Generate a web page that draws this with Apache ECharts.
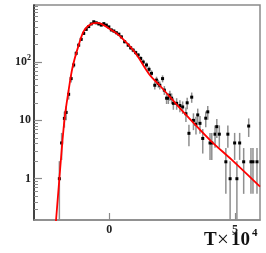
<!DOCTYPE html>
<html>
<head>
<meta charset="utf-8">
<script src="https://cdn.jsdelivr.net/npm/echarts@6/dist/echarts.min.js"></script>
<style>html,body{margin:0;padding:0;background:#fff;}#c{width:266px;height:253px;}</style>
</head>
<body>
<div id="c"></div>
<script>
// Data points (T in units of 1e4), value, symmetric error
var pointX = [-1.99,-1.90,-1.79,-1.72,-1.62,-1.52,-1.42,-1.32,-1.22,-1.12,-1.02,-0.92,-0.82,-0.72,-0.62,-0.52,-0.42,-0.32,-0.22,-0.12,-0.02,0.08,0.18,0.28,0.38,0.48,0.61,0.75,0.85,0.95,1.05,1.15,1.25,1.35,1.48,1.58,1.68,1.81,1.88,1.95,2.01,2.12,2.19,2.28,2.35,2.41,2.48,2.55,2.68,2.81,2.92,3.05,3.10,3.17,3.28,3.35,3.45,3.52,3.61,3.72,3.84,3.92,4.01,4.08,4.21,4.28,4.38,4.64,4.72,4.81,4.99,5.08,5.19,5.35,5.55,5.64,5.72,5.88];
var pointY = [1.0,4.1,10.8,13.7,28,52,89,141,195,245,310,363,405,450,490,470,450,430,455,430,400,355,340,318,300,270,223,195,175,160,145,132,115,100,89,75,64,40,49,43,40,52,33,24,24,27,24,19.6,19.6,18,17,13,20,6.0,25,10,8.6,12.4,8.9,4.9,10.9,14,4.1,4.1,5.8,7.8,5.8,1.95,5.8,1.0,4.1,1.0,4.1,1.95,8,1.95,1.95,1.95];
var pointErr = [1.0,2.0,3.3,3.7,5.3,7.2,9.4,12,14,16,18,19,20,21,22,22,21,21,21,21,20,19,18,18,17,16,15,14,13,13,12,11,11,10,9.4,8.7,8,6.3,7,6.6,6.3,7.2,5.7,4.9,4.9,5.2,4.9,4.4,4.4,4.2,4.1,3.6,4.5,2.4,5,3.2,2.9,3.5,3,2.2,3.3,3.7,2,2,2.4,2.8,2.4,1.4,2.4,1,2,1,2,1.4,2.8,1.4,1.4,1.4];
// Fit curve
var curveX = [-2.16,-2.12,-1.99,-1.79,-1.62,-1.46,-1.22,-0.99,-0.66,-0.50,-0.32,0.08,0.41,1.00,1.61,2.00,2.88,4.01,4.88,6.00];
var curveY = [0.13,0.2,1.0,10,33,83,195,355,460,468,450,355,280,150,60,40,15,4.6,2.1,0.73];
// Axis ticks
var xMajor = [0,5];
var yMajor = [1,10,100];
var yMinor = [0.2,0.3,0.4,0.5,0.6,0.7,0.8,0.9,2,3,4,5,6,7,8,9,20,30,40,50,60,70,80,90,200,300,400,500,600,700,800,900];
var yMin = 0.196, yMax = 950;

var pts = pointX.map(function(x,i){
  var lo = pointY[i]-pointErr[i];
  if (lo <= yMin) lo = yMin;
  return [x, pointY[i], lo, pointY[i]+pointErr[i]];
});
var curve = curveX.map(function(x,i){return [x, curveY[i]];});

var chart = echarts.init(document.getElementById('c'), null, {renderer:'canvas'});
var serif = 'Liberation Serif';
chart.setOption({
  animation:false,
  grid:{left:34, top:5, right:6, bottom:33, show:true, borderColor:'#8a8a8a', borderWidth:1.5},
  xAxis:{type:'value', min:-3, max:6,
    axisLine:{show:true, onZero:false, lineStyle:{color:'#8a8a8a', width:1.5}},
    splitLine:{show:false},
    axisTick:{show:true, inside:true, length:7, customValues:xMajor, lineStyle:{color:'#8a8a8a', width:1.2}},
    axisLabel:{show:true, customValues:xMajor, margin:4, fontFamily:serif, fontWeight:'bold', fontSize:12, color:'#222'}
  },
  yAxis:[{type:'log', logBase:10, min:yMin, max:yMax, position:'left',
    axisLine:{show:true, onZero:false, lineStyle:{color:'#222', width:1.5}},
    splitLine:{show:false},
    axisTick:{show:true, inside:true, length:8, customValues:yMajor, lineStyle:{color:'#8a8a8a', width:1.2}},
    axisLabel:{show:true, customValues:yMajor, margin:3, fontFamily:serif, fontWeight:'bold', fontSize:12, color:'#222',
      formatter:function(v){ if (v>=99) return '{b|10}{s|2}'; return '{b|'+Math.round(v)+'}'; },
      rich:{b:{fontFamily:serif, fontWeight:'bold', fontSize:12, color:'#222'},
            s:{fontFamily:serif, fontWeight:'bold', fontSize:8, color:'#222', padding:[0,0,8,0]}}}
  },{type:'log', logBase:10, min:yMin, max:yMax, position:'left',
    axisLine:{show:false, onZero:false}, splitLine:{show:false}, axisLabel:{show:false},
    axisTick:{show:true, inside:true, length:4, customValues:yMinor, lineStyle:{color:'#8a8a8a', width:1}}
  }],
  graphic:[
    {type:'text', left:204, top:231, style:{text:'T', fontFamily:serif, fontWeight:'bold', fontSize:19, fill:'#111'}},
    {type:'text', left:217, top:230, style:{text:'\u00d7', fontFamily:serif, fontWeight:'normal', fontSize:21, fill:'#111'}},
    {type:'text', left:231, top:231, style:{text:'10', fontFamily:serif, fontWeight:'bold', fontSize:19, fill:'#111'}},
    {type:'text', left:252, top:228, style:{text:'4', fontFamily:serif, fontWeight:'bold', fontSize:11, fill:'#111'}}
  ],
  series:[
    {type:'custom', coordinateSystem:'cartesian2d', clip:true, z:3,
     data:pts,
     renderItem:function(params, api){
       var x = api.value(0), y = api.value(1), lo = api.value(2), hi = api.value(3);
       var pc = api.coord([x,y]), pl = api.coord([x,lo]), ph = api.coord([x,hi]);
       return {type:'group', children:[
         {type:'line', shape:{x1:pc[0], y1:pl[1], x2:pc[0], y2:ph[1]}, style:{stroke:'#8f8f8f', lineWidth:1.5}},
         {type:'rect', shape:{x:pc[0]-1.5, y:pc[1]-1.5, width:3, height:3}, style:{fill:'#000'}}
       ]};
     }},
    {type:'line', data:curve, smooth:0.35, showSymbol:false, clip:true, z:4,
     lineStyle:{color:'#ff0000', width:1.8}}
  ]
});
</script>
</body>
</html>
